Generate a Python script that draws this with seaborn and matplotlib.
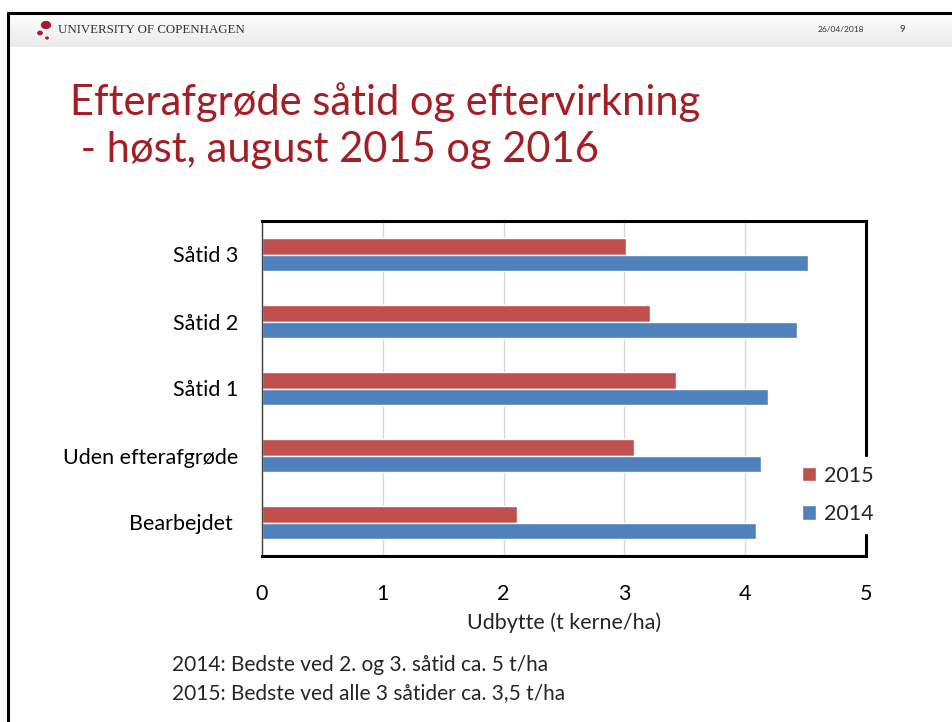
import numpy as np
import pandas as pd
import seaborn as sns
import matplotlib.pyplot as plt
from matplotlib.patches import Circle
from matplotlib.lines import Line2D

# data
categories = ["Såtid 3", "Såtid 2", "Såtid 1", "Uden efterafgrøde", "Bearbejdet "]
years = ["2015", "2014"]
yield_2015 = [3.01, 3.21, 3.43, 3.08, 2.11]
yield_2014 = [4.52, 4.43, 4.19, 4.13, 4.09]
x_ticks = [0, 1, 2, 3, 4, 5]
title_text = "Efterafgrøde såtid og eftervirkning\n - høst, august 2015 og 2016"
notes = ["2014: Bedste ved 2. og 3. såtid ca. 5 t/ha",
         "2015: Bedste ved alle 3 såtider ca. 3,5 t/ha"]

df = pd.DataFrame({
    "kategori": categories * 2,
    "udbytte": yield_2015 + yield_2014,
    "aar": ["2015"] * len(categories) + ["2014"] * len(categories),
})

sns.set_theme(style="white")
plt.rcParams['font.family'] = ['Lato', 'DejaVu Sans']

W, H = 952, 722
fig = plt.figure(figsize=(W / 100, H / 100), dpi=100)
fig.patch.set_facecolor("white")

def fx(px):
    return px / W

def fy(py):
    return 1 - py / H

# header band with a soft grey gradient
hdr = fig.add_axes([fx(8), fy(47), 1 - fx(8), (47 - 13) / H])
grad = np.linspace(0.99, 0.92, 50).reshape(-1, 1)
hdr.imshow(np.repeat(grad, 2, axis=1), cmap="gray", vmin=0, vmax=1, aspect="auto",
           extent=[0, 1, 0, 1])
hdr.set_axis_off()

# slide border (top and left)
fig.add_artist(Line2D([fx(8), 1], [fy(13), fy(13)], color="black", lw=2.2))
fig.add_artist(Line2D([fx(8), fx(8)], [fy(13), 0], color="black", lw=2.2))

# logo dots
red = "#a41e23"
for (cx, cy, r) in [(46, 25, 4.5), (40, 33, 2.2), (47, 38, 1.2)]:
    fig.add_artist(Circle((fx(cx), fy(cy)), r / W, color=red, transform=fig.transFigure))

fig.text(fx(58), fy(30), "UNIVERSITY OF COPENHAGEN", family="Liberation Serif",
         fontsize=9.3, color="#333333", va="center", ha="left")
fig.text(fx(818), fy(30), "26/04/2018", fontsize=6, color="#333333", va="center")
fig.text(fx(900), fy(30), "9", fontsize=6.8, color="#333333", va="center")

fig.text(fx(70), fy(102), title_text.split("\n")[0], fontsize=30, color=red, va="center")
fig.text(fx(70), fy(150), title_text.split("\n")[1], fontsize=30, color=red, va="center")

# chart
ax = fig.add_axes([fx(262), fy(556), (866 - 262) / W, (556 - 221) / H])
sns.barplot(data=df, y="kategori", x="udbytte", hue="aar", hue_order=years,
            palette={"2015": "#C0504D", "2014": "#4F81BD"}, orient="h",
            width=0.5, saturation=1, errorbar=None, ax=ax)

ax.set_xlim(0, 5)
ax.set_xticks(x_ticks)
ax.xaxis.grid(True, color="#d9d9d9", lw=1)
ax.set_axisbelow(True)
ax.tick_params(axis="both", length=0, labelsize=15.5, colors="black")
ax.tick_params(axis="y", pad=17)
ax.tick_params(axis="x", pad=20)
ax.set_ylabel("")
ax.set_xlabel("Udbytte (t kerne/ha)", fontsize=15.5, labelpad=6)

for side in ["top", "bottom", "right"]:
    ax.spines[side].set_visible(True)
    ax.spines[side].set_color("black")
    ax.spines[side].set_linewidth(2.2)
ax.spines["left"].set_color("#404040")
ax.spines["left"].set_linewidth(1)

handles, labels = ax.get_legend_handles_labels()
leg = ax.legend(handles, labels, loc="center left", bbox_to_anchor=(fx(783), fy(495)),
                bbox_transform=fig.transFigure, frameon=True, facecolor="white",
                edgecolor="white", framealpha=1, fontsize=15.5, handlelength=0.65,
                handleheight=0.65, handletextpad=0.35, labelspacing=0.85,
                borderpad=0.4, fancybox=False)
leg.set_zorder(10)

fig.text(fx(172), fy(665), notes[0], fontsize=15, va="center")
fig.text(fx(172), fy(693), notes[1], fontsize=15, va="center")

fig.savefig("out.png", dpi=100)
